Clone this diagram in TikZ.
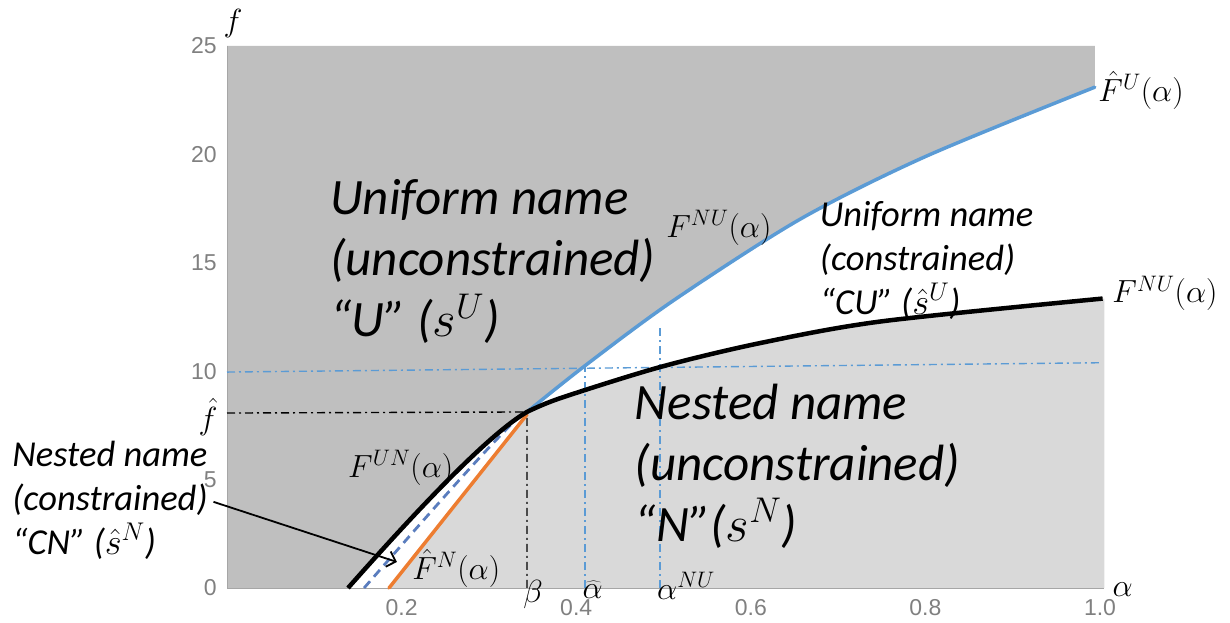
\RequirePackage{fix-cm}
\documentclass[tikz,border=0pt]{standalone}
\usepackage{fontspec}
\setmainfont{Carlito}
\newfontfamily\tickfont{Liberation Sans}
\usetikzlibrary{arrows.meta}

\definecolor{darkreg}{RGB}{191,191,191}
\definecolor{lightreg}{RGB}{217,217,217}
\definecolor{ublue}{RGB}{91,155,213}
\definecolor{norange}{RGB}{237,125,49}
\definecolor{cdash}{RGB}{90,125,190}
\definecolor{tickgray}{RGB}{128,128,128}

\begin{document}
\begin{tikzpicture}[
        x=873pt, y=21.68pt,
        curve/.style={line width=4.5pt, line cap=round, line join=round},
        guide/.style={line width=1.4pt, dash pattern=on 8pt off 4pt on 2pt off 4pt},
        ticklbl/.style={font=\tickfont\fontsize{23}{23}\selectfont, text=tickgray, inner sep=0pt},
        bigtext/.style={font=\itshape\fontsize{51}{61}\selectfont, align=left, inner sep=0pt, anchor=west},
        smalltext/.style={font=\itshape\fontsize{36.5}{44}\selectfont, align=left, inner sep=0pt, anchor=west},
        mathlbl/.style={font=\fontsize{32}{34}\selectfont, inner sep=0pt},
        pointer/.style={line width=1.8pt, -{Straight Barb[length=8pt,width=16pt,line width=1.8pt]}}
    ]
    \useasboundingbox (-0.26003,-1.5683) rectangle (1.14891,27.1218);

    % regions
    \fill[darkreg] (0,0) -- (0,25) -- (0.994,25) -- (0.994,23.1)
        -- plot[smooth] coordinates {(0.994,23.1) (0.80,19.9) (0.656,17.0) (0.511,13.25) (0.41,10.25) (0.3436,8.12)}
        .. controls (0.30,7.1) and (0.22,3.7) .. (0.1386,0)
        -- cycle;
    \fill[lightreg] (0.3436,8.12)
        -- plot[smooth] coordinates {(0.3436,8.12) (0.382,8.76) (0.496,10.19) (0.611,11.3) (0.75,12.3) (1.003,13.35)}
        -- (1.005,13.35) -- (1.005,0) -- (0.1856,0) -- cycle;

    % axes
    \draw[gray!70, line width=0.8pt] (0,25) -- (0,0) -- (1.005,0);

    % guide lines
    \coordinate (kink) at (0.3436,8.12);
    \draw[guide] (0,8.07) -- (kink) -- (0.3436,0);
    \draw[guide, ublue] (0,9.96) -- (1.0,10.39);
    \draw[guide, ublue] (0.41,0) -- (0.41,10.3);
    \draw[guide, ublue] (0.496,0) -- (0.496,12.0);

    % curves
    \draw[curve, line width=3.5pt, ublue] plot[smooth] coordinates {(0.3436,8.12) (0.41,10.25) (0.511,13.25) (0.656,17.0) (0.80,19.9) (0.994,23.1)};
    \draw[curve, line width=3.5pt, norange] (0.1856,0) -- (0.3436,8.0);
    \draw[curve, line width=2.8pt, line cap=butt, cdash, dash pattern=on 9pt off 6pt] (0.157,0) .. controls (0.22,2.9) and (0.30,6.6) .. (0.336,7.95);
    \draw[curve, line cap=butt] (0.1386,0) .. controls (0.22,3.7) and (0.30,7.1) .. (kink)
        -- plot[smooth] coordinates {(0.3436,8.12) (0.382,8.76) (0.496,10.19) (0.611,11.3) (0.75,12.3) (1.003,13.35)};

    % ticks
    \foreach \v in {0,5,...,25}
        \node[ticklbl, anchor=east] (yt\v) at (-0.0115,\v) {\v};
    \foreach \v [count=\i] in {0.2,0.4,0.6,0.8,1.0}
        \node[ticklbl] (xt\i) at (\v,-0.92) {\v};

    % axis names
    \node[mathlbl] (faxis) at (0.0069,26.06) {$f$};
    \node[mathlbl] (aaxis) at (1.026,-0.09) {$\alpha$};

    % curve labels
    \node[mathlbl, anchor=west] (fhatU) at (0.998,22.97) {$\hat{F}^{U}(\alpha)$};
    \node[mathlbl, anchor=west] (fNUb) at (1.014,13.6) {$F^{NU}(\alpha)$};
    \node[mathlbl, anchor=west] (fNUa) at (0.503,16.6) {$F^{NU}(\alpha)$};
    \node[mathlbl, anchor=west] (fUN) at (0.1386,5.53) {$F^{UN}(\alpha)$};
    \node[mathlbl, anchor=west] (fhatN) at (0.212,0.92) {$\hat{F}^{N}(\alpha)$};
    \node[mathlbl] (beta) at (0.3505,-0.32) {$\beta$};
    \node[mathlbl] (ahat) at (0.419,-0.09) {$\widehat{\alpha}$};
    \node[mathlbl, anchor=west] (aNU) at (0.4925,0.09) {$\alpha^{NU}$};
    \node[mathlbl] (fhat) at (-0.0218,7.89) {$\hat{f}$};

    % region names
    \node[bigtext] (lblU) at (0.118,15.04) {Uniform name\\(unconstrained)\\“U” ($s^{U}$)};
    \node[bigtext] (lblN) at (0.467,5.63) {Nested name\\(unconstrained)\\“N”($s^{N}$)};
    \node[smalltext] (lblCU) at (0.679,15.13) {Uniform name\\(constrained)\\“CU” ($\hat{s}^{U}$)};
    \node[smalltext] (lblCN) at (-0.246,4.06) {Nested name\\(constrained)\\“CN” ($\hat{s}^{N}$)};

    \coordinate (cntip) at (0.1947,1.2);
    \draw[pointer, shorten <=6pt] (lblCN.east) -- (cntip);

\end{tikzpicture}
\end{document}
